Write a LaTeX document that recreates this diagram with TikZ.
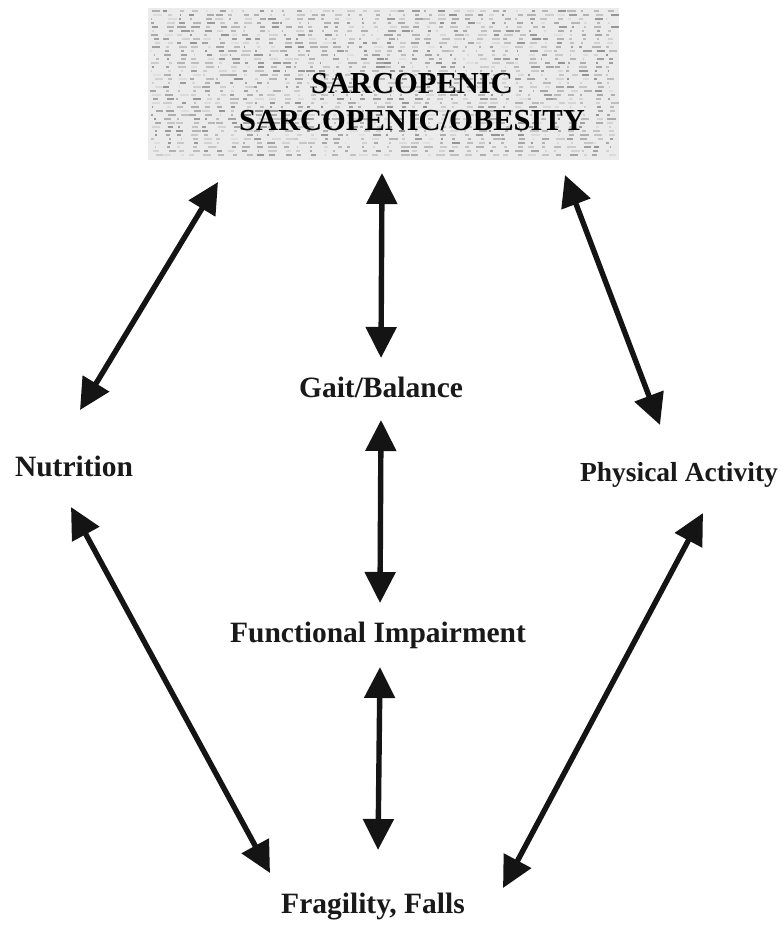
\documentclass[tikz,border=0pt]{standalone}
\usepackage{fontspec}
\setmainfont{Liberation Serif}
\usetikzlibrary{arrows.meta}
\tikzset{
  lbl/.style={font=\fontsize{29.5}{31}\selectfont\bfseries, inner sep=0pt, text=black!90},
  dbl/.style={line width=5.4pt, draw=black!92, {Triangle[length=31pt,width=30pt]}-{Triangle[length=31pt,width=30pt]}},
}
\begin{document}
\begin{tikzpicture}[x=1pt,y=-1pt]
\useasboundingbox (0,0) rectangle (781,928);
\fill[white] (0,0) rectangle (781,928);
% textured header box
\fill[gray!16] (148,8) rectangle (619,160);
\pgfmathsetseed{17}
\foreach \cx in {150,163,...,606}{
  \foreach \cy in {11,15,...,157}{
    \pgfmathsetmacro\dl{1+8*rnd}
    \pgfmathsetmacro\dx{6*rnd}
    \pgfmathsetmacro\gv{12+30*rnd}
    \draw[line width=1.2pt, black!\gv] (\cx+\dx,\cy) -- ++(\dl,0);
  }
}
\node[lbl, align=center, font=\fontsize{30.5}{37}\selectfont\bfseries, text=black] (top) at (412,102) {SARCOPENIC\\SARCOPENIC/OBESITY};
\node[lbl] (gait) at (381,387) {Gait/Balance};
\node[lbl] (nut) at (74,466) {Nutrition};
\node[lbl, font=\fontsize{27.5}{30}\selectfont\bfseries] (phys) at (679,475) {Physical Activity};
\node[lbl] (func) at (378,635) {Functional Impairment};
\node[lbl] (frag) at (373,907) {Fragility, Falls};
% arrow end points
\coordinate (a1) at (218,182); \coordinate (b1) at (80,410);
\coordinate (a2) at (382,173); \coordinate (b2) at (381,358);
\coordinate (a3) at (565,175); \coordinate (b3) at (660,425);
\coordinate (a4) at (381,420); \coordinate (b4) at (380,603);
\coordinate (a5) at (71,507);  \coordinate (b5) at (270,873);
\coordinate (a6) at (703,513); \coordinate (b6) at (503,888);
\coordinate (a7) at (380,667); \coordinate (b7) at (378,850);
\foreach \i in {1,...,7}{ \draw[dbl] (a\i) -- (b\i); }
\end{tikzpicture}
\end{document}
